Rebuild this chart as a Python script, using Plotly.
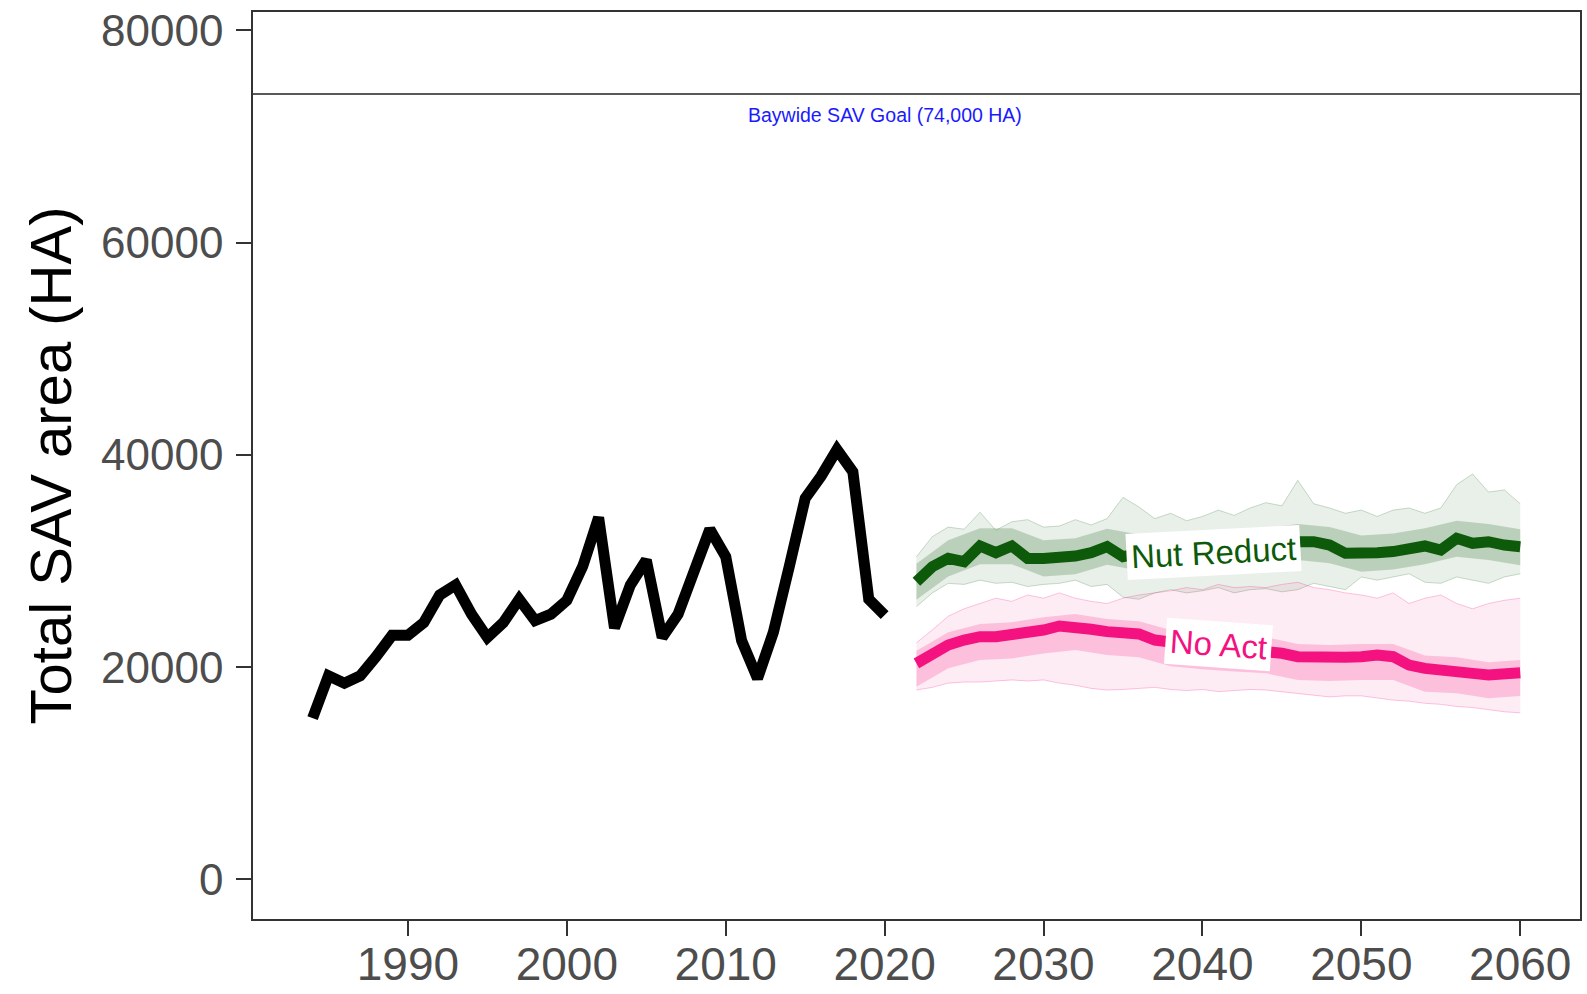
import plotly.graph_objects as go

# ---------------- data ----------------
hist_years = list(range(1984, 2021))
hist_area = [15200, 19200, 18500, 19200, 21000, 23000, 23000, 24200, 26800, 27750,
             25000, 22800, 24200, 26400, 24400, 25000, 26300, 29500, 34100, 23700,
             27750, 30100, 22800, 25000, 29000, 33000, 30400, 22500, 18950, 23300,
             29500, 35900, 38000, 40500, 38400, 26400, 24900]

proj_years = list(range(2022, 2061))

nut_median = [28050, 29470, 30250, 29940, 31420, 30790, 31420, 30250, 30250, 30300,
              30470, 30790, 31350, 30410, 30800, 31000, 31000, 31200, 31100, 31300,
              31200, 31400, 31400, 31600, 31820, 31820, 31510, 30730, 30670, 30790,
              30890, 31100, 31420, 31040, 32140, 31670, 31820, 31510, 31350]
nut_upper = [30400, 32300, 33200, 33000, 34600, 32900, 33700, 33900, 33200, 33300,
             33900, 33400, 34000, 36000, 35100, 34000, 34500, 33800, 34200, 34800,
             34300, 35000, 35500, 35200, 37600, 35400, 35000, 34500, 34800, 34200,
             34800, 35000, 34500, 35000, 37200, 38200, 36500, 36700, 35400]
nut_lower = [25700, 27000, 27900, 27800, 28200, 27900, 28000, 27600, 27800, 27900,
             28200, 27600, 27800, 26600, 26400, 27000, 27300, 27000, 27200, 27500,
             27000, 27300, 27400, 27100, 27300, 27900, 27600, 27300, 28500, 28200,
             28500, 28800, 28000, 27900, 28500, 28200, 27900, 28500, 28800]

noact_median = [20360, 21300, 22090, 22560, 22870, 22870, 23030, 23190, 23500, 23880,
                23810, 23570, 23350, 23190, 23130, 22560, 22300, 22100, 22000, 21900,
                21800, 21700, 21620, 21310, 20990, 20900, 20900, 20930, 20990, 21150,
                20990, 20200, 19890, 19800, 19740, 19420, 19270, 19330, 19480]
noact_upper = [22300, 23500, 24800, 25500, 26000, 26500, 26200, 26800, 26500, 27000,
               26500, 26200, 26000, 26500, 26800, 27000, 27200, 27500, 27300, 27800,
               27500, 27600, 27500, 27800, 28000, 27500, 27300, 27000, 26800, 26500,
               27000, 26000, 26500, 26800, 26000, 25500, 26000, 26300, 26500]
noact_lower = [17850, 18100, 18500, 18600, 18600, 18700, 18800, 18700, 18800, 18500,
               18300, 18000, 17850, 17900, 18000, 18100, 17900, 17800, 17900, 17700,
               17800, 17900, 17850, 17700, 17500, 17400, 17200, 17300, 17300, 17100,
               16900, 16800, 16600, 16500, 16300, 16200, 16000, 15800, 15700]

core_years = list(range(2022, 2061, 2))
nut_core_upper = [29750, 31950, 33100, 33100, 31950, 32150, 33050, 32500, 32700, 32800,
                  32900, 33100, 33500, 33200, 32400, 32600, 33100, 33800, 33500, 33000]
nut_core_lower = [26350, 28550, 29700, 29700, 28550, 28750, 29650, 29100, 29300, 29400,
                  29500, 29700, 30100, 29800, 29000, 29200, 29700, 30400, 30100, 29600]
noact_core_upper = [21560, 23290, 24070, 24230, 24700, 25010, 24550, 24330, 23500, 23200,
                    23000, 22820, 22190, 22100, 22190, 22190, 21090, 20940, 20470, 20680]
noact_core_lower = [18160, 19890, 20670, 20830, 21300, 21610, 21150, 20930, 20100, 19800,
                    19600, 19420, 18790, 18700, 18790, 18790, 17690, 17540, 17070, 17280]

goal_value = 74000
goal_label = "Baywide SAV Goal (74,000 HA)"
scenario_labels = ["Nut Reduct", "No Act"]
label_pos = [(2040.7, 30850, -3), (2041.0, 22180, 4)]

x_ticks = [1990, 2000, 2010, 2020, 2030, 2040, 2050, 2060]
y_ticks = [0, 20000, 40000, 60000, 80000]

# ---------------- style ----------------
GREEN = "#0d5a0a"
PINK = "#f3127f"
FONT = "Liberation Sans, Arial, sans-serif"

fig = go.Figure()


def band(x, lo, hi, fillcol, edgecol, edgew):
    fig.add_trace(go.Scatter(x=x, y=lo, mode="lines",
                             line=dict(color=edgecol, width=edgew),
                             hoverinfo="skip", showlegend=False))
    fig.add_trace(go.Scatter(x=x, y=hi, mode="lines", fill="tonexty",
                             fillcolor=fillcol,
                             line=dict(color=edgecol, width=edgew),
                             hoverinfo="skip", showlegend=False))


band(proj_years, nut_lower, nut_upper, "rgba(40,110,40,0.10)", "rgba(40,110,40,0.30)", 0.8)
band(core_years, nut_core_lower, nut_core_upper, "rgba(40,110,40,0.24)", "rgba(40,110,40,0.0)", 0)
band(proj_years, noact_lower, noact_upper, "rgba(243,18,127,0.08)", "rgba(243,18,127,0.30)", 0.8)
band(core_years, noact_core_lower, noact_core_upper, "rgba(243,18,127,0.20)", "rgba(243,18,127,0.0)", 0)

fig.add_trace(go.Scatter(x=proj_years, y=nut_median, mode="lines",
                         line=dict(color=GREEN, width=11), showlegend=False))
fig.add_trace(go.Scatter(x=proj_years, y=noact_median, mode="lines",
                         line=dict(color=PINK, width=11), showlegend=False))
fig.add_trace(go.Scatter(x=hist_years, y=hist_area, mode="lines",
                         line=dict(color="black", width=11), showlegend=False))

fig.add_hline(y=goal_value, line=dict(color="#222222", width=1.3))
fig.add_annotation(x=2020, y=72000, text=goal_label, showarrow=False,
                   font=dict(family=FONT, size=19.5, color="#1a1aff"))

for lab, (lx, ly, ang), col in zip(scenario_labels, label_pos, [GREEN, PINK]):
    fig.add_annotation(x=lx, y=ly, text=lab, showarrow=False, textangle=ang,
                       bgcolor="white", borderpad=4,
                       font=dict(family=FONT, size=33, color=col))

axis_common = dict(showline=True, mirror=True, linecolor="#333333", linewidth=1.6,
                   ticks="outside", ticklen=15, tickwidth=2, tickcolor="#333333",
                   showgrid=False, zeroline=False, automargin=False)

fig.update_xaxes(range=[1980.25, 2063.76], tickvals=x_ticks,
                 ticktext=[str(t) for t in x_ticks], ticklabelstandoff=-11,
                 tickfont=dict(family=FONT, size=46, color="#4d4d4d"),
                 **axis_common)
fig.update_yaxes(range=[-3722, 81724], tickvals=y_ticks,
                 ticktext=[str(t) for t in y_ticks], ticklabelstandoff=4,
                 tickfont=dict(family=FONT, size=44, color="#4d4d4d"),
                 title=dict(text="Total SAV area (HA)", standoff=11,
                            font=dict(family=FONT, size=58, color="black")),
                 **axis_common)

fig.update_layout(width=1587, height=994, plot_bgcolor="white", paper_bgcolor="white",
                  margin=dict(l=253, r=7, t=12, b=75), showlegend=False)

fig.write_html("out.html", config={"displayModeBar": False},
               post_script="document.body.style.margin='0px';")
